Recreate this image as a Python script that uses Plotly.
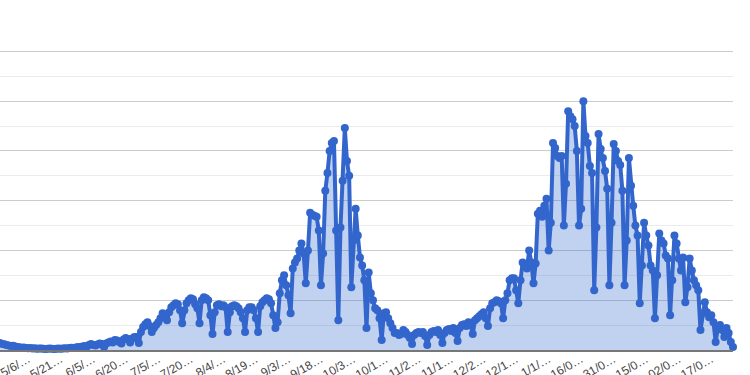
import plotly.graph_objects as go
import pandas as pd

start_date = "2020-04-23"
daily_cases = [
    280, 240, 230, 200, 180, 160, 170, 140, 120, 110,
    90, 100, 80, 70, 80, 60, 70, 50, 60, 60,
    50, 40, 50, 60, 50, 40, 50, 60, 50, 60,
    70, 60, 80, 90, 80, 100, 120, 110, 140, 160,
    130, 200, 240, 200, 180, 220, 260, 240, 120, 260,
    300, 340, 300, 400, 380, 320, 260, 420, 480, 440,
    300, 460, 520, 520, 280, 720, 920, 1040, 1120, 960,
    720, 880, 1000, 1120, 1280, 1480, 1360, 1200, 1520, 1720,
    1800, 1880, 1840, 1600, 1080, 1600, 1880, 2000, 2080, 2040,
    1840, 1680, 1080, 2000, 2120, 2080, 2000, 1400, 640, 1520,
    1800, 1840, 1760, 1800, 1720, 720, 1520, 1760, 1800, 1760,
    1680, 1520, 1280, 720, 1600, 1720, 1720, 1600, 1280, 720,
    1760, 1920, 2000, 2080, 2040, 1880, 1400, 880, 1120, 2280,
    2800, 3000, 2600, 2200, 1480, 3280, 3520, 3680, 4000, 4280,
    3880, 2680, 4000, 5520, 5440, 5400, 5360, 4800, 2600, 3880,
    6400, 7120, 8000, 8320, 8400, 4800, 1200, 4920, 6800, 8920,
    7600, 7000, 2520, 4400, 5680, 4600, 3720, 3400, 2800, 880,
    3120, 2280, 2000, 1680, 1600, 1280, 400, 1480, 1520, 1280,
    1080, 880, 680, 680, 600, 640, 800, 720, 600, 480,
    240, 600, 680, 720, 680, 720, 560, 200, 600, 720,
    760, 720, 800, 600, 280, 680, 800, 840, 760, 880,
    680, 360, 880, 1000, 1040, 960, 1120, 1000, 640, 1200,
    1280, 1360, 1440, 1520, 1280, 960, 1680, 1880, 1920, 2000,
    1960, 1880, 1280, 2000, 2280, 2800, 2880, 2880, 2400, 1880,
    2800, 3520, 3400, 3280, 4000, 3520, 2680, 3480, 5480, 5600,
    5360, 5800, 6080, 4000, 5120, 8320, 8120, 7800, 7720, 7800,
    5000, 6680, 9600, 9400, 9280, 9000, 8000, 5000, 5680, 10000,
    8600, 8320, 7400, 7120, 2400, 4920, 8680, 8080, 7720, 7200,
    6480, 2600, 5120, 8280, 8000, 7600, 7440, 6400, 2600, 4400,
    7720, 6600, 5800, 5000, 4600, 1880, 3400, 5120, 4600, 4200,
    3400, 3200, 1280, 3000, 4680, 4400, 4280, 3800, 3680, 1400,
    2800, 4600, 4280, 3680, 3200, 3720, 1920, 2520, 3680, 3200,
    2800, 2600, 2400, 800, 1480, 1920, 1520, 1320, 1400, 1120,
    320, 880, 1000, 800, 520, 880, 680, 320, 120,
]
tick_dates = [
    "2020-05-06", "2020-05-21", "2020-06-05", "2020-06-20", "2020-07-05",
    "2020-07-20", "2020-08-04", "2020-08-19", "2020-09-03", "2020-09-18",
    "2020-10-03", "2020-10-18", "2020-11-02", "2020-11-17", "2020-12-02",
    "2020-12-17", "2021-01-01", "2021-01-16", "2021-01-31", "2021-02-15",
    "2021-03-02", "2021-03-17",
]
tick_labels = [
    "5/6/…", "5/21…", "6/5/…", "6/20…", "7/5/…",
    "7/20…", "8/4/…", "8/19…", "9/3/…", "9/18…",
    "10/3…", "10/1…", "11/2…", "11/1…", "12/2…",
    "12/1…", "1/1/…", "16/0…", "31/0…", "15/0…",
    "02/0…", "17/0…",
]

dates = pd.date_range(start_date, periods=len(daily_cases), freq="D")

fig = go.Figure()
fig.add_trace(go.Scatter(
    x=dates, y=daily_cases, mode="lines+markers",
    line=dict(color="#3366cc", width=4),
    marker=dict(color="#3366cc", size=8),
    fill="tozeroy", fillcolor="rgba(51,102,204,0.3)",
    showlegend=False, cliponaxis=False,
))
fig.update_layout(
    width=750, height=375,
    margin=dict(l=0, r=17, t=49, b=25, autoexpand=False),
    paper_bgcolor="white", plot_bgcolor="white",
    font=dict(family="Liberation Sans, Arial, sans-serif", size=12, color="#444"),
)
fig.update_xaxes(
    type="date", range=[dates[0], dates[-1]], automargin=False,
    tickvals=tick_dates, ticktext=tick_labels, tickangle=-30,
    ticklabelstandoff=-4, ticklabeloverflow="allow",
    showgrid=False, showline=True, linecolor="#777", linewidth=1.5,
    ticks="", tickfont=dict(size=12, color="#444"),
)
fig.update_yaxes(
    range=[0, 12100], dtick=2000, showticklabels=False, automargin=False,
    gridcolor="#cccccc", gridwidth=1, zeroline=False,
    minor=dict(dtick=1000, showgrid=True, gridcolor="#ebebeb", gridwidth=1),
)
fig.write_html(
    "out.html",
    config={"displayModeBar": False},
    post_script="document.body.style.margin='0px';document.body.style.overflow='hidden';",
)
